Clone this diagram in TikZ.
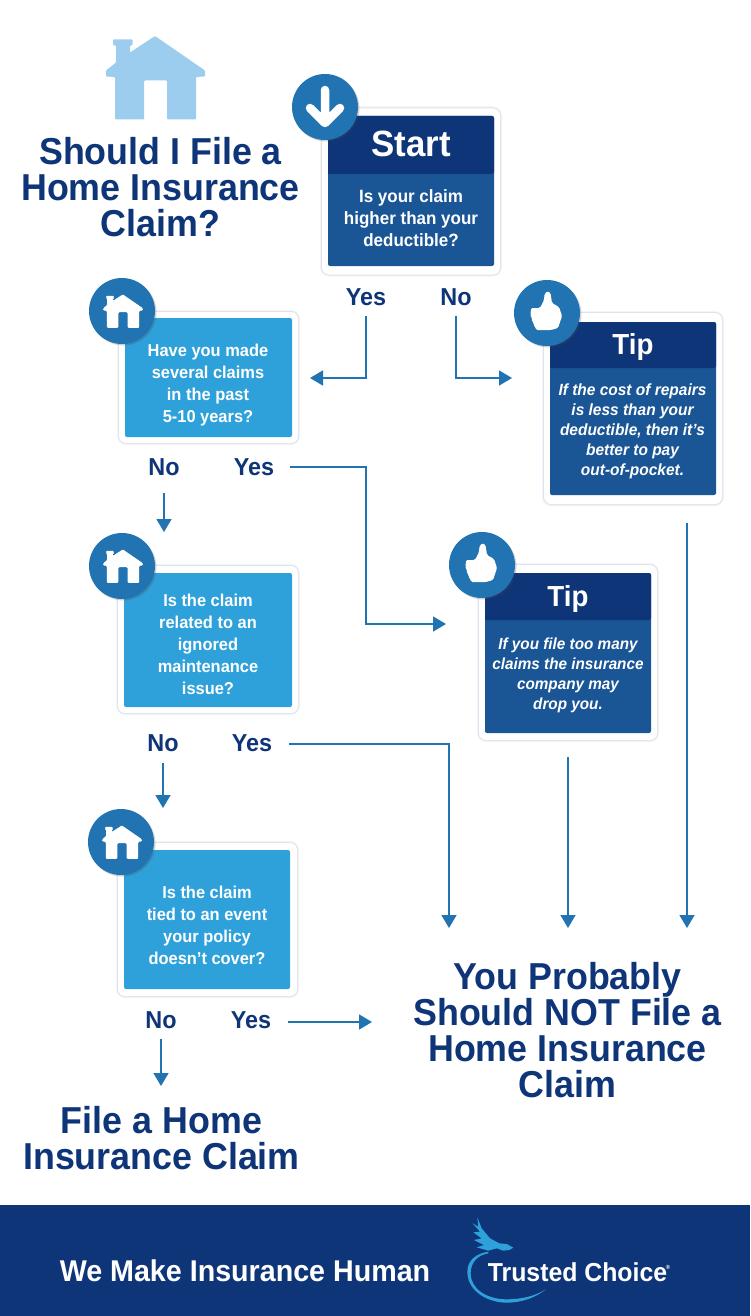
\documentclass[tikz,border=0pt]{standalone}
\usepackage{fontspec}
\setmainfont[FakeStretch=0.955]{Liberation Sans}
\usetikzlibrary{arrows.meta,shadows}
\definecolor{navy}{HTML}{0F3579}
\definecolor{midblue}{HTML}{1A5596}
\definecolor{skyblue}{HTML}{2EA1DB}
\definecolor{lineblue}{HTML}{2173B1}
\definecolor{palehouse}{HTML}{9DCDEE}
\definecolor{rimgrey}{HTML}{8C9DBD}
\newcommand{\fs}[2]{\fontsize{#1}{#2}\selectfont}
\tikzset{
  x=1pt,y=-1pt,
  outerbox/.style={fill=white,rounded corners=7pt,inner sep=0pt,outer sep=0pt,
    preaction={draw=rimgrey,opacity=.10,line width=4pt},
    preaction={draw=rimgrey,opacity=.20,line width=2pt}},
  innerbox/.style={rounded corners=2pt,inner sep=0pt,outer sep=0pt},
  badge/.style={circle,fill=lineblue,minimum size=66pt,inner sep=0pt,outer sep=0pt,
    drop shadow={shadow xshift=1.5pt,shadow yshift=-1.5pt,opacity=.25,fill=black!70}},
  title/.style={text=navy,font=\bfseries\fs{37.5}{36},align=center,inner sep=0pt},
  choice/.style={text=navy,font=\bfseries\fs{24.5}{24},inner sep=0pt},
  qtext/.style={text=white,font=\bfseries\fs{17.2}{22},align=center,inner sep=0pt},
  tiphead/.style={text=white,font=\bfseries\fs{29}{29},inner sep=0pt},
  conn/.style={draw=lineblue,line width=1.5pt,-{Triangle[length=13pt,width=15pt]}},
  houseicon/.pic={
    \fill[rounded corners=1pt] (-0.5,-41.5) -- (49.5,-7) -- (49.5,-1) -- (40.5,-0.5) -- (40.5,42) -- (11.5,42) -- (11.5,3) -- (-11.5,3) -- (-11.5,42) -- (-40.5,42) -- (-40.5,-0.5) -- (-49.5,-1) -- (-49.5,-7) -- (-39.5,-15) -- (-39.5,-32) -- (-42.5,-32) -- (-42.5,-38) -- (-23,-38) -- (-23,-32) -- (-25.5,-32) -- (-25.5,-25) -- cycle;
  },
  thumbicon/.pic={
    \fill[rounded corners=1.5pt] (-7,-5) -- (-3,-13) -- (-2.5,-19) -- (0.5,-22) -- (3.5,-20) -- (5,-10) -- (12,-6) -- (15,3) -- (11,15) -- (4,17) -- (-11,17) -- (-12,13) -- (-13.5,12) -- (-14,8) -- (-15.5,7) -- (-15.5,3) -- (-16.5,2) -- (-16,-5) -- cycle;
  }
}
\begin{document}
\begin{tikzpicture}
\useasboundingbox (0,0) rectangle (750,1316);
\fill[white] (0,0) rectangle (750,1316);

% big house and title
\pic[palehouse,fill=palehouse] at (155.5,77.5) {houseicon};
\node[title] (title) at (160.5,187) {Should I File a\\Home Insurance\\Claim?};

% Start
\node[outerbox,minimum width=178pt,minimum height=166pt] (start) at (411,191.5) {};
\node[innerbox,fill=midblue,minimum width=166pt,minimum height=150pt] (startbody) at (411,191) {};
\fill[navy,rounded corners=2pt] (328,174) [sharp corners] -- (328,120) [rounded corners=2pt] -- (328,116) -- (494,116) -- (494,174) [sharp corners] -- cycle;
\node[tiphead,font=\bfseries\fs{36.5}{36}] (starthead) at (411,144) {Start};
\node[qtext,font=\bfseries\fs{17.8}{22}] (starttext) at (411,218) {Is your claim\\higher than your\\deductible?};
\node[badge] (startbadge) at (325,107) {};
\draw[white,line width=8.5pt,line cap=round,line join=round] (325,90) -- (325,123) (310,108) -- (325,123) -- (340,108);

% Tip 1
\node[outerbox,minimum width=178pt,minimum height=191pt] (tipa) at (633,408.5) {};
\node[innerbox,fill=midblue,minimum width=166pt,minimum height=173pt] (tipabody) at (633,408.5) {};
\fill[navy,rounded corners=2pt] (550,368) [sharp corners] -- (550,326) [rounded corners=2pt] -- (550,322) -- (716,322) -- (716,368) [sharp corners] -- cycle;
\node[tiphead] (tipahead) at (633,347) {Tip};
\node[qtext,font=\bfseries\itshape\fs{16.2}{20}] (tipatext) at (632.5,431) {If the cost of repairs\\is less than your\\deductible, then it’s\\better to pay\\out-of-pocket.};
\node[badge] (tipabadge) at (547,313) {};
\pic[white,fill=white] at (547,313) {thumbicon};

% Question 1
\node[outerbox,minimum width=179pt,minimum height=131pt] (qa) at (208.5,377.5) {};
\node[innerbox,fill=skyblue,minimum width=167pt,minimum height=119pt] (qabody) at (208.5,377.5) {};
\node[qtext] (qatext) at (208,385.5) {Have you made\\several claims\\in the past\\5-10 years?};
\node[badge] (qabadge) at (122,311) {};
\pic[white,fill=white,scale=.4] at (123,311) {houseicon};

% Question 2
\node[outerbox,minimum width=180pt,minimum height=147pt] (qb) at (208,639.5) {};
\node[innerbox,fill=skyblue,minimum width=168pt,minimum height=134pt] (qbbody) at (208,640) {};
\node[qtext] (qbtext) at (208,644.5) {Is the claim\\related to an\\ignored\\maintenance\\issue?};
\node[badge] (qbbadge) at (122,566) {};
\pic[white,fill=white,scale=.4] at (123,566) {houseicon};

% Question 3
\node[outerbox,minimum width=179pt,minimum height=153pt] (qc) at (207.5,919.5) {};
\node[innerbox,fill=skyblue,minimum width=166pt,minimum height=139pt] (qcbody) at (207,919.5) {};
\node[qtext] (qctext) at (207,925) {Is the claim\\tied to an event\\your policy\\doesn’t cover?};
\node[badge] (qcbadge) at (121,842) {};
\pic[white,fill=white,scale=.4] at (122,842) {houseicon};

% Tip 2
\node[outerbox,minimum width=178pt,minimum height=175pt] (tipb) at (568,652.5) {};
\node[innerbox,fill=midblue,minimum width=166pt,minimum height=160pt] (tipbbody) at (568,653) {};
\fill[navy,rounded corners=2pt] (485,620) [sharp corners] -- (485,577) [rounded corners=2pt] -- (485,573) -- (651,573) -- (651,620) [sharp corners] -- cycle;
\node[tiphead] (tipbhead) at (568,599) {Tip};
\node[qtext,font=\bfseries\itshape\fs{16}{20}] (tipbtext) at (568,675.5) {If you file too many\\claims the insurance\\company may\\drop you.};
\node[badge] (tipbbadge) at (482,565) {};
\pic[white,fill=white] at (482,565) {thumbicon};

% choice labels
\node[choice] (sy) at (366,297) {Yes};
\node[choice] (sn) at (456,297) {No};
\node[choice] (an) at (164,467) {No};
\node[choice] (ay) at (254,467) {Yes};
\node[choice] (bn) at (163,743) {No};
\node[choice] (by) at (252,743) {Yes};
\node[choice] (cn) at (161,1020) {No};
\node[choice] (cy) at (251,1020) {Yes};

% end results
\node[title] (notfile) at (567.5,1030) {You Probably\\Should NOT File a\\Home Insurance\\Claim};
\node[title] (file) at (161.5,1138) {File a Home\\Insurance Claim};

% connector free ends
\coordinate (sys) at (366,316);
\coordinate (sye) at (310,378);
\coordinate (sns) at (456,316);
\coordinate (sne) at (512,378);
\coordinate (ans) at (164,493);
\coordinate (ane) at (164,532);
\coordinate (ays) at (290,467);
\coordinate (ayb) at (366,624);
\coordinate (aye) at (446,624);
\coordinate (bns) at (163,763);
\coordinate (bne) at (163,808);
\coordinate (bys) at (289,744);
\coordinate (bye) at (449,928);
\coordinate (cns) at (161,1039);
\coordinate (cne) at (161,1086);
\coordinate (cys) at (288,1022);
\coordinate (cye) at (372,1022);
\coordinate (tas) at (687,523);
\coordinate (tae) at (687,928);
\coordinate (tbs) at (568,757);
\coordinate (tbe) at (568,928);

\draw[conn] (sys) |- (sye);
\draw[conn] (sns) |- (sne);
\draw[conn] (ans) -- (ane);
\draw[conn] (ays) -| (ayb) -- (aye);
\draw[conn] (bns) -- (bne);
\draw[conn] (bys) -| (bye);
\draw[conn] (cns) -- (cne);
\draw[conn] (cys) -- (cye);
\draw[conn] (tas) -- (tae);
\draw[conn] (tbs) -- (tbe);

% footer
\node[fill=navy,minimum width=750pt,minimum height=111pt,anchor=north west,inner sep=0pt,outer sep=0pt] (footer) at (0,1205) {};
\node[text=white,font=\bfseries\fs{30}{30},inner sep=0pt] (slogan) at (245,1271) {We Make Insurance Human};
\node[text=white,font=\bfseries\fs{26}{26},inner sep=0pt] (brand) at (577.5,1272) {Trusted Choice};
\node[text=white,font=\bfseries\fs{6}{6},inner sep=0pt] (reg) at (668,1267) {®};
% logo swoosh and eagle
\begin{scope}[shift={(460,1210)},x=.3333pt,y=-.3333pt]
\fill[skyblue] (85,125) .. controls (50,130) and (22,150) .. (22,185) .. controls (22,245) and (85,278) .. (140,278) .. controls (190,278) and (230,260) .. (258,238) .. controls (225,258) and (185,268) .. (140,268) .. controls (85,268) and (32,240) .. (32,190) .. controls (32,155) and (55,135) .. (85,130) -- cycle;
\fill[skyblue] (52,22) -- (65,55) -- (90,85) -- (118,100) -- (140,102) -- (160,113) -- (148,120) -- (130,122) -- (110,115) -- (85,122) -- (50,112) -- (72,105) -- (42,90) -- (65,85) -- (40,67) -- (60,65) -- (38,40) -- (55,50) -- cycle;
\end{scope}
\end{tikzpicture}
\end{document}
